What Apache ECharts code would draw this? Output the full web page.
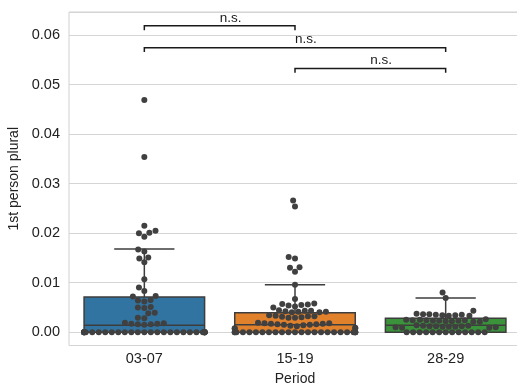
<!DOCTYPE html>
<html>
<head>
<meta charset="utf-8">
<script src="https://cdn.jsdelivr.net/npm/echarts@6/dist/echarts.min.js"></script>
<style>
  html, body { margin: 0; padding: 0; background: #ffffff; overflow: hidden; }
  #chart { width: 517px; height: 389px; }
</style>
</head>
<body>
<div id="chart"></div>
<script>
// Categories on the x axis
const periods = ['03-07', '15-19', '28-29'];

// Per-text frequency of first person plural, one array per period
const values0307 = [
  0, 0, 0, 0, 0, 0, 0, 0, 0, 0, 0, 0, 0, 0, 0, 0, 0, 0, 0, 0, 0, 0, 0, 0, 0, 0, 0, 0, 0, 0,
  0.0469, 0.0354, 0.0215, 0.0205, 0.0201, 0.0200, 0.0193, 0.0167, 0.0163, 0.0151, 0.0149, 0.0141,
  0.0107, 0.0090, 0.0083, 0.0073, 0.0072, 0.0065, 0.0064, 0.0062, 0.0051, 0.0050, 0.0049,
  0.0039, 0.0038, 0.0029, 0.0028, 0.0019, 0.0018, 0.0017, 0.0017, 0.0016, 0.0016, 0.0015
];
const values1519 = [
  0, 0, 0, 0, 0, 0, 0, 0, 0, 0, 0, 0, 0, 0, 0, 0, 0, 0, 0, 0, 0, 0, 0, 0,
  0.0266, 0.0254, 0.0152, 0.0149, 0.0131, 0.0130, 0.0122, 0.0096, 0.0067,
  0.0058, 0.0057, 0.0056, 0.0055, 0.0054, 0.0052, 0.0050,
  0.0044, 0.0043, 0.0043, 0.0042, 0.0041, 0.0041, 0.0040, 0.0040,
  0.0034, 0.0033, 0.0032, 0.0032, 0.0031, 0.0030, 0.0029, 0.0029,
  0.0019, 0.0018, 0.0018, 0.0017, 0.0017, 0.0016, 0.0016, 0.0015, 0.0015, 0.0014, 0.0013, 0.0012,
  0.0009, 0.0008, 0.0008, 0.0007
];
const values2829 = [
  0, 0, 0, 0, 0, 0, 0, 0, 0, 0, 0, 0, 0,
  0.0080, 0.0069, 0.0043,
  0.0037, 0.0036, 0.0036, 0.0035, 0.0035, 0.0034, 0.0034, 0.0033, 0.0033,
  0.0026, 0.0025, 0.0025, 0.0024, 0.0024, 0.0024, 0.0023, 0.0023, 0.0023, 0.0022, 0.0022, 0.0021, 0.0021,
  0.0014, 0.0013, 0.0013, 0.0012, 0.0012, 0.0012, 0.0011, 0.0011, 0.0011, 0.0010, 0.0010, 0.0009, 0.0009
];
const groups = [values0307, values1519, values2829];

// Box summaries per period
const whiskerLow  = [0, 0, 0];
const quart1      = [0, 0, 0];
const medians     = [0.0014, 0.0015, 0.0014];
const quart3      = [0.0071, 0.0039, 0.0028];
const whiskerHigh = [0.0168, 0.0096, 0.0069];

// Pairwise comparisons: bracket ends, bracket height, label
const pairFrom   = [0, 0, 1];
const pairTo     = [1, 2, 2];
const pairHeight = [0.0619, 0.0575, 0.0533];
const pairLabel  = ['n.s.', 'n.s.', 'n.s.'];

// Y-axis range
const yMin = -0.0027;
const yMax = 0.0647;

const boxColors = ['#3274a1', '#e1812c', '#3a923a'];
const edgeColor = '#3d3d3d';
const dotColor = '#404040';
const textColor = '#222222';
const fontFamily = '"Liberation Sans", Arial, sans-serif';
const DOT_R = 3.1;
const BRACKET_DROP = 0.0009;

const chart = echarts.init(document.getElementById('chart'), null, { renderer: 'canvas' });

const baseOption = {
  animation: false,
  backgroundColor: '#ffffff',
  grid: {
    left: 69, width: 452, top: 12, bottom: 43.5,
    outerBoundsMode: 'none',
    containLabel: false,
    show: true, borderColor: '#d0d0d0', borderWidth: 1, backgroundColor: 'transparent'
  },
  xAxis: {
    type: 'category',
    data: periods,
    boundaryGap: true,
    name: 'Period',
    nameLocation: 'middle',
    nameGap: 27,
    nameTextStyle: { color: textColor, fontSize: 14, fontFamily },
    axisLine: { show: false },
    axisTick: { show: false },
    splitLine: { show: false },
    axisLabel: { color: textColor, fontSize: 14.5, fontFamily, margin: 6 }
  },
  yAxis: {
    type: 'value',
    min: yMin,
    max: yMax,
    splitNumber: 7,
    name: '1st person plural',
    nameLocation: 'middle',
    nameGap: 44,
    nameRotate: 90,
    nameTextStyle: { color: textColor, fontSize: 14, fontFamily },
    axisLine: { show: false },
    axisTick: { show: false },
    splitLine: { show: true, lineStyle: { color: '#d5d5d5', width: 1 } },
    axisLabel: {
      color: textColor, fontSize: 14.5, fontFamily, margin: 9,
      showMinLabel: false, showMaxLabel: false,
      formatter: v => v.toFixed(2)
    }
  },
  series: [
    {
      type: 'custom',
      name: 'box',
      z: 2,
      encode: { x: 0, y: [1, 2, 3, 4, 5] },
      data: periods.map((p, i) => [i, whiskerLow[i], quart1[i], medians[i], quart3[i], whiskerHigh[i]]),
      renderItem(params, api) {
        const idx = api.value(0);
        const band = api.size([1, 0])[0];
        const bw = band * 0.8;
        const cx = api.coord([idx, 0])[0];
        const yWl = api.coord([idx, api.value(1)])[1];
        const yQ1 = api.coord([idx, api.value(2)])[1];
        const yMed = api.coord([idx, api.value(3)])[1];
        const yQ3 = api.coord([idx, api.value(4)])[1];
        const yWh = api.coord([idx, api.value(5)])[1];
        const line = { stroke: edgeColor, lineWidth: 1.5 };
        return {
          type: 'group',
          children: [
            { type: 'line', shape: { x1: cx, y1: yQ3, x2: cx, y2: yWh }, style: line },
            { type: 'line', shape: { x1: cx - bw / 4, y1: yWh, x2: cx + bw / 4, y2: yWh }, style: line },
            { type: 'line', shape: { x1: cx, y1: yQ1, x2: cx, y2: yWl }, style: line },
            { type: 'line', shape: { x1: cx - bw / 4, y1: yWl, x2: cx + bw / 4, y2: yWl }, style: line },
            {
              type: 'rect',
              shape: { x: cx - bw / 2, y: yQ3, width: bw, height: yQ1 - yQ3 },
              style: { fill: boxColors[idx], stroke: edgeColor, lineWidth: 1.5 }
            },
            { type: 'line', shape: { x1: cx - bw / 2, y1: yMed, x2: cx + bw / 2, y2: yMed }, style: line }
          ]
        };
      }
    },
    {
      type: 'custom',
      name: 'brackets',
      z: 4,
      clip: false,
      encode: { x: [0, 1], y: 2 },
      data: pairFrom.map((f, i) => [f, pairTo[i], pairHeight[i], i]),
      renderItem(params, api) {
        const h = api.value(2);
        const a = api.coord([api.value(0), h]);
        const b = api.coord([api.value(1), h]);
        const yDrop = api.coord([api.value(0), h - BRACKET_DROP])[1];
        return {
          type: 'group',
          children: [
            {
              type: 'polyline',
              shape: { points: [[a[0], yDrop], [a[0], a[1]], [b[0], b[1]], [b[0], yDrop]] },
              style: { stroke: '#1a1a1a', lineWidth: 1.5, fill: null }
            },
            {
              type: 'text',
              x: (a[0] + b[0]) / 2,
              y: a[1] - 1,
              style: {
                text: pairLabel[api.value(3)],
                fill: '#1a1a1a',
                fontSize: 13.5,
                fontFamily,
                align: 'left',
                verticalAlign: 'bottom'
              }
            }
          ]
        };
      }
    }
  ]
};

chart.setOption(baseOption);

// Beeswarm placement in pixel space: each point sits as close to the
// category centre as it can without touching earlier (lower) points;
// points that overflow the 0.8 band width are pushed to its edge.
function swarmOffsets(values, catIdx) {
  const toPx = (c, v) => chart.convertToPixel({ gridIndex: 0 }, [c, v]);
  const cx = toPx(catIdx, 0)[0];
  const band = toPx(1, 0)[0] - toPx(0, 0)[0];
  const half = band * 0.8 / 2;
  const pts = values.map((v, i) => ({ i, x: cx, y: -toPx(catIdx, v)[1], r: DOT_R }));
  pts.sort((a, b) => a.y - b.y || a.i - b.i);
  const swarm = [pts[0]];
  for (let k = 1; k < pts.length; k++) {
    const p = pts[k];
    const neighbors = [];
    for (let j = swarm.length - 1; j >= 0; j--) {
      if (p.y - swarm[j].y < p.r + swarm[j].r) neighbors.push(swarm[j]);
      else break;
    }
    const cands = [cx];
    let leftFirst = true;
    for (const n of neighbors) {
      const dy = p.y - n.y;
      const dx = Math.sqrt(Math.max((p.r + n.r) ** 2 - dy * dy, 0)) * 1.05;
      if (leftFirst) cands.push(n.x - dx, n.x + dx);
      else cands.push(n.x + dx, n.x - dx);
      leftFirst = !leftFirst;
    }
    const order = cands
      .map((c, i) => ({ c, i, d: Math.abs(c - cx) }))
      .sort((a, b) => a.d - b.d || a.i - b.i);
    let chosen = cx;
    if (neighbors.length) {
      for (const cand of order) {
        let ok = true;
        for (const n of neighbors) {
          const ddx = n.x - cand.c;
          const ddy = n.y - p.y;
          if (ddx * ddx + ddy * ddy < (n.r + p.r) ** 2 - 1e-9) { ok = false; break; }
        }
        if (ok) { chosen = cand.c; break; }
      }
    }
    p.x = chosen;
    swarm.push(p);
  }
  const out = new Array(values.length);
  for (const p of swarm) out[p.i] = Math.max(-half, Math.min(half, p.x - cx));
  return out;
}

const swarmData = [];
groups.forEach((vals, g) => {
  const offs = swarmOffsets(vals, g);
  vals.forEach((v, i) => swarmData.push([g, v, offs[i]]));
});

chart.setOption({
  series: [
    baseOption.series[0],
    baseOption.series[1],
    {
      type: 'custom',
      name: 'points',
      z: 3,
      encode: { x: 0, y: 1 },
      data: swarmData,
      renderItem(params, api) {
        const p = api.coord([api.value(0), api.value(1)]);
        return {
          type: 'circle',
          shape: { cx: p[0] + api.value(2), cy: p[1], r: 3 },
          style: { fill: dotColor }
        };
      }
    }
  ]
});
</script>
</body>
</html>
